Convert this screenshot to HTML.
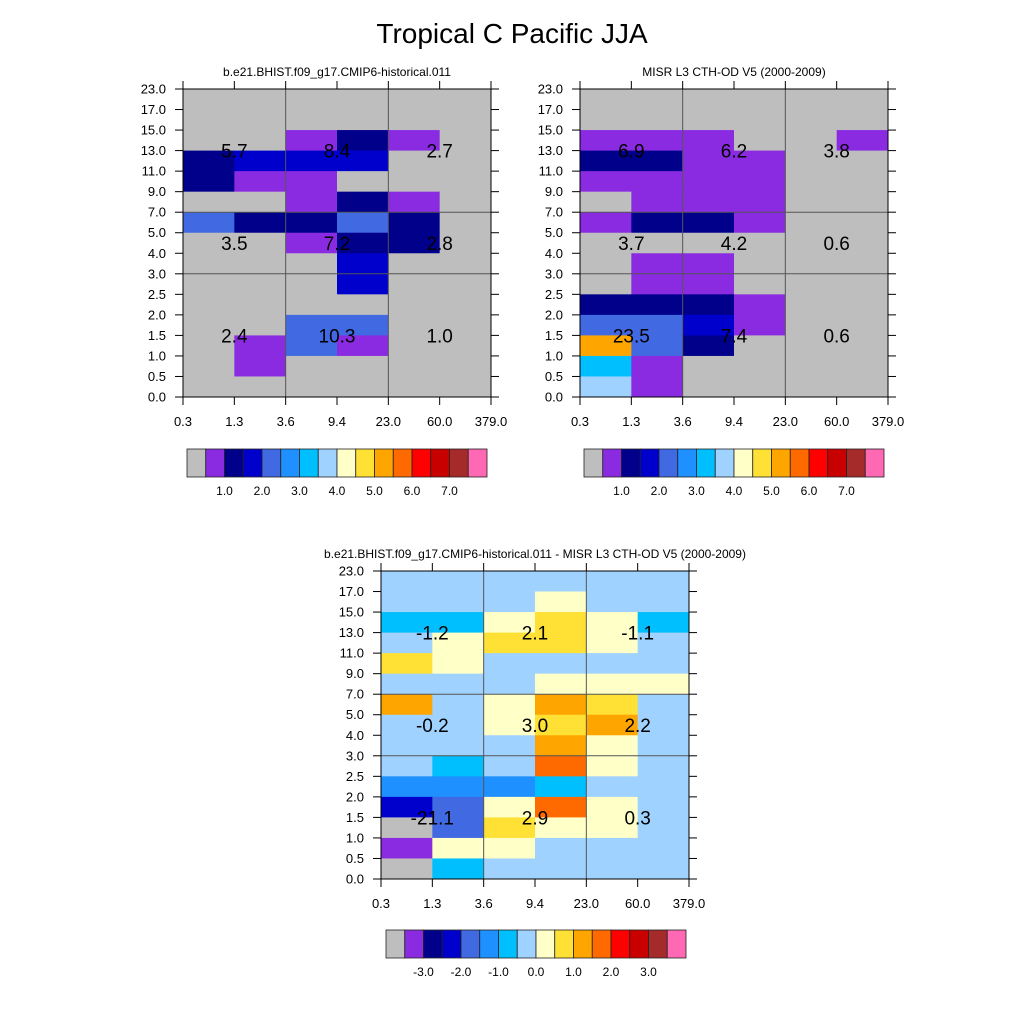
<!DOCTYPE html>
<html><head><meta charset="utf-8"><style>
html,body{margin:0;padding:0;background:#fff;}
svg{display:block;font-family:"Liberation Sans",sans-serif;}
</style></head><body>
<svg id="chart" width="1024" height="1024" viewBox="0 0 1024 1024" xmlns="http://www.w3.org/2000/svg">
<text x="512" y="43" font-size="28" text-anchor="middle">Tropical C Pacific JJA</text>
</svg>
<script>
const palette=["#bebebe","#8a2be2","#00008b","#0000cd","#4169e1","#1e90ff","#00bfff","#a0d2ff","#ffffc8","#ffe135","#ffa500","#ff6a00","#ff0000","#c80000","#a52a2a","#ff69b4"];
const xTicks=["0.3","1.3","3.6","9.4","23.0","60.0","379.0"];
const yTicks=["0.0","0.5","1.0","1.5","2.0","2.5","3.0","4.0","5.0","7.0","9.0","11.0","13.0","15.0","17.0","23.0"];
// rows listed top (17-23) to bottom (0-0.5); values are colour-level indices
const grid1=[[0,0,0,0,0,0],[0,0,0,0,0,0],[0,0,1,2,1,0],[2,3,3,3,0,0],[2,1,1,0,0,0],[0,0,1,2,1,0],[4,2,2,4,2,0],[0,0,1,2,2,0],[0,0,0,3,0,0],[0,0,0,3,0,0],[0,0,0,0,0,0],[0,0,4,4,0,0],[0,1,4,1,0,0],[0,1,0,0,0,0],[0,0,0,0,0,0]];
const grid2=[[0,0,0,0,0,0],[0,0,0,0,0,0],[1,1,1,0,0,1],[2,2,1,1,0,0],[1,1,1,1,0,0],[0,1,1,1,0,0],[1,2,2,1,0,0],[0,0,0,0,0,0],[0,1,1,0,0,0],[0,1,1,0,0,0],[2,2,2,1,0,0],[4,4,3,1,0,0],[10,4,2,0,0,0],[6,1,0,0,0,0],[7,1,0,0,0,0]];
const grid3=[[7,7,7,7,7,7],[7,7,7,8,7,7],[6,6,8,9,8,6],[7,8,9,9,8,7],[9,8,7,7,7,7],[7,7,7,8,8,8],[10,7,8,10,9,7],[7,7,8,9,10,7],[7,7,7,10,8,7],[7,6,7,11,8,7],[5,5,5,6,7,7],[3,4,8,11,8,7],[0,4,9,8,8,7],[1,8,8,7,7,7],[0,6,7,7,7,7]];
const vals1=["5.7","8.4","2.7","3.5","7.2","2.8","2.4","10.3","1.0"];
const vals2=["6.9","6.2","3.8","3.7","4.2","0.6","23.5","7.4","0.6"];
const vals3=["-1.2","2.1","-1.1","-0.2","3.0","2.2","-21.1","2.9","0.3"];
const cbLabels1=["1.0","2.0","3.0","4.0","5.0","6.0","7.0"];
const cbLabels3=["-3.0","-2.0","-1.0","0.0","1.0","2.0","3.0"];
const NS="http://www.w3.org/2000/svg";
const svg=document.getElementById('chart');
function mk(t,a,p){const e=document.createElementNS(NS,t);for(const k in a)e.setAttribute(k,a[k]);(p||svg).appendChild(e);return e;}
function panel(name,x0,y0,grid,vals,title,cbX,cbY,cbL){
 const g=mk('g',{});
 
 
 const W=308,H=308,cw=W/6,rh=H/15;
 const xs=i=>x0+i*cw, ys=j=>y0+j*rh;
 grid.forEach((row,j)=>row.forEach((v,i)=>{
  const r=mk('rect',{x:xs(i),y:ys(j),width:cw+0.4,height:rh+0.4,fill:palette[v]},g);
  
  
 }));
 [2,4].forEach(i=>mk('line',{x1:xs(i),x2:xs(i),y1:y0,y2:y0+H,stroke:'#555','stroke-width':1},g));
 [9,6].forEach(k=>{const y=y0+H-k*rh;mk('line',{x1:x0,x2:x0+W,y1:y,y2:y,stroke:'#555','stroke-width':1},g);});
 mk('rect',{x:x0,y:y0,width:W,height:H,fill:'none',stroke:'#000','stroke-width':1},g);
 yTicks.forEach((t,k)=>{const y=y0+H-k*rh;
  mk('line',{x1:x0-8,x2:x0,y1:y,y2:y,stroke:'#000'},g);
  mk('line',{x1:x0+W,x2:x0+W+8,y1:y,y2:y,stroke:'#000'},g);
  const tx=mk('text',{x:x0-17,y:y+4.5,'font-size':13,'text-anchor':'end'},g);tx.textContent=t;
  
  });
 xTicks.forEach((t,k)=>{const x=xs(k);
  mk('line',{x1:x,x2:x,y1:y0+H,y2:y0+H+8,stroke:'#000'},g);
  mk('line',{x1:x,x2:x,y1:y0-8,y2:y0,stroke:'#000'},g);
  const tx=mk('text',{x:x,y:y0+H+29,'font-size':13,'text-anchor':'middle'},g);tx.textContent=t;
  
  });
 const st=mk('text',{x:x0+W/2,y:y0-13,'font-size':12,'text-anchor':'middle'},g);st.textContent=title;
 
 
 const tys=[ys(3),ys(7)+rh/2,ys(12)];
 vals.forEach((v,k)=>{const tx=mk('text',{x:xs(1+2*(k%3)),y:tys[Math.floor(k/3)]+7,'font-size':19,'text-anchor':'middle'},g);tx.textContent=v;
  
  });
 const cb=mk('g',{},g);
 
 
 const bw=300/16;
 palette.forEach((c,k)=>mk('rect',{x:cbX+k*bw,y:cbY,width:bw,height:28,fill:c,stroke:'#222','stroke-width':0.8},cb));
 cbL.forEach((t,k)=>{const tx=mk('text',{x:cbX+(2+2*k)*bw,y:cbY+46,'font-size':12,'text-anchor':'middle'},cb);tx.textContent=t;
  
  });
}
panel('panel-model',183,89,grid1,vals1,'b.e21.BHIST.f09_g17.CMIP6-historical.011',187,449,cbLabels1);
panel('panel-misr',580,89,grid2,vals2,'MISR L3 CTH-OD V5 (2000-2009)',584,449,cbLabels1);
panel('panel-diff',381,571,grid3,vals3,'b.e21.BHIST.f09_g17.CMIP6-historical.011 - MISR L3 CTH-OD V5 (2000-2009)',386,930,cbLabels3);
</script>
</body></html>
